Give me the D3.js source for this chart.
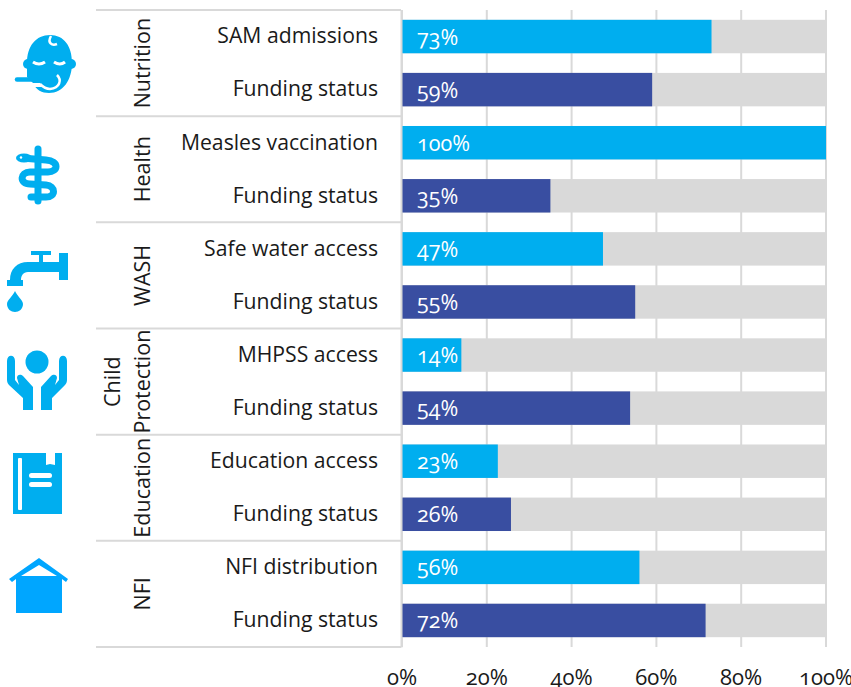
<!DOCTYPE html>
<html>
<head>
<meta charset="utf-8">
<script src="https://cdn.jsdelivr.net/npm/d3@7"></script>
<style>
html, body { margin: 0; padding: 0; background: #fff; }
text { font-family: "Open Sans", Lato, sans-serif; font-feature-settings: "onum" 1; fill: #1a1a1a; }
</style>
</head>
<body>
<div id="chart"></div>
<script>
const sectors = ["Nutrition", "Health", "WASH", "Child Protection", "Education", "NFI"]
const rowLabels = ["SAM admissions", "Funding status", "Measles vaccination", "Funding status",
    "Safe water access", "Funding status", "MHPSS access", "Funding status",
    "Education access", "Funding status", "NFI distribution", "Funding status"]
const rowValues = [73, 59, 100, 35, 47.4, 55, 14, 53.8, 22.6, 25.7, 56, 71.6]
const xTicks = [0, 20, 40, 60, 80, 100]

const width = 851, height = 687
const margin = { top: 10, right: 25, bottom: 40, left: 402 }
const colorAccess = "#00aeef", colorFunding = "#394ea1", colorRest = "#d9d9d9"
const lineColor = "#d9d9d9"

const svg = d3.select("#chart").append("svg")
    .attr("width", width)
    .attr("height", height)
    .style("display", "block")

const xScale = d3.scaleLinear().domain([0, 100]).range([margin.left, width - margin.right])
const yScale = d3.scaleBand()
    .domain(d3.range(rowLabels.length))
    .range([margin.top, height - margin.bottom])
    .paddingInner(0.37)
    .paddingOuter(0.185)
const sectorScale = d3.scaleBand()
    .domain(sectors)
    .range([margin.top, height - margin.bottom])

// vertical gridlines, they run behind the bars
const grid = svg.append("g")
    .attr("transform", "translate(-0.5," + (height - margin.bottom) + ")")
    .call(d3.axisBottom(xScale)
        .tickValues(xTicks)
        .tickSize(height - margin.bottom - margin.top)
        .tickSizeOuter(0)
        .tickPadding(0)
        .tickFormat(d => d + "%"))
grid.select(".domain").remove()
grid.selectAll(".tick line")
    .attr("y2", -(height - margin.bottom - margin.top))
    .attr("stroke", lineColor)
    .attr("stroke-width", 2)
grid.selectAll(".tick text")
    .attr("y", 38)
    .attr("dy", 0)
    .attr("font-size", 22)
    .attr("text-anchor", "middle")
    .style("font-family", null)

// grey remainder to 100%
svg.selectAll(".rest")
    .data(rowValues)
    .enter()
    .append("rect")
    .attr("class", "rest")
    .attr("x", xScale(0))
    .attr("y", (d, i) => yScale(i))
    .attr("width", xScale(100) - xScale(0))
    .attr("height", yScale.bandwidth())
    .attr("fill", colorRest)

svg.selectAll(".bar")
    .data(rowValues)
    .enter()
    .append("rect")
    .attr("class", "bar")
    .attr("x", xScale(0))
    .attr("y", (d, i) => yScale(i))
    .attr("width", d => xScale(d) - xScale(0))
    .attr("height", yScale.bandwidth())
    .attr("fill", (d, i) => i % 2 == 0 ? colorAccess : colorFunding)

svg.selectAll(".barLabel")
    .data(rowValues)
    .enter()
    .append("text")
    .attr("class", "barLabel")
    .attr("x", xScale(0) + 15)
    .attr("y", (d, i) => yScale(i) + yScale.bandwidth() / 2 + 8)
    .attr("font-size", 21.5)
    .style("fill", "#fff")
    .text(d => Math.round(d) + "%")

// row labels
const yAxis = svg.append("g")
    .attr("transform", "translate(" + (margin.left - 1) + ",0)")
    .call(d3.axisLeft(yScale).tickSize(0).tickPadding(23).tickFormat(i => rowLabels[i]))
yAxis.select(".domain").attr("stroke", lineColor).attr("stroke-width", 2)
yAxis.selectAll("text")
    .attr("font-size", 21.2)
    .attr("dy", "0.32em")
    .style("font-family", null)

// sector separators
const sepValues = sectors.map(d => sectorScale(d)).concat([height - margin.bottom])
svg.selectAll(".sep")
    .data(sepValues)
    .enter()
    .append("line")
    .attr("class", "sep")
    .attr("x1", 96)
    .attr("x2", margin.left - 1)
    .attr("y1", d => d)
    .attr("y2", d => d)
    .attr("stroke", lineColor)
    .attr("stroke-width", 2)

// sector labels, rotated
sectors.forEach(name => {
    const cy = sectorScale(name) + sectorScale.bandwidth() / 2
    const t = svg.append("text")
        .attr("transform", "translate(150," + cy + ") rotate(-90)")
        .attr("text-anchor", "middle")
        .attr("font-size", 21.5)
    if (name == "Child Protection") {
        t.append("tspan").attr("x", 0).attr("y", -30).text("Child")
        t.append("tspan").attr("x", 0).attr("y", 0).text("Protection")
    } else {
        t.text(name)
    }
})

// icons
const icons = svg.append("g").attr("fill", colorAccess)

// baby
const baby = icons.append("g")
baby.append("path").attr("d", "M27,63 C27,46 36,35 50,35 C64,35 72,46 72,63 C72,80 63,93 49,93 C42,93 36,90 33,83 L27,77 Z")
baby.append("circle").attr("cx", 28).attr("cy", 64).attr("r", 5)
baby.append("circle").attr("cx", 71).attr("cy", 64).attr("r", 5)
baby.append("path").attr("d", "M57,75 C62,80 60,88 50,89 C46,89 43,87 40,84").attr("fill", "none").attr("stroke", "#fff").attr("stroke-width", 2.5)
baby.append("path").attr("d", "M28,83 L40,83 L42,87 L32,87 Z").attr("fill", "#fff")
baby.append("path").attr("d", "M17,79.5 L44,79.5").attr("stroke", colorAccess).attr("stroke-width", 4.5).attr("stroke-linecap", "round")
baby.append("path").attr("d", "M43,77 L57,77 C57,83 53,86 49,86 C46,86 44,84 43,82 Z")
baby.append("path").attr("d", "M33,62 Q39,66 45,62 M54,62 Q60,66 65,62").attr("fill", "none").attr("stroke", "#fff").attr("stroke-width", 3)
baby.append("path").attr("d", "M51,36 C47,43 52,46 57,44").attr("fill", "none").attr("stroke", "#fff").attr("stroke-width", 2.5)

// staff and snake
const snake = icons.append("g")
snake.append("path").attr("d", "M38,149 L38,201").attr("stroke", colorAccess).attr("stroke-width", 7).attr("stroke-linecap", "round")
snake.append("path")
    .attr("d", "M22,158 L46,160 C60,161 58,172 48,172 L30,172 C20,172 19,184 30,184 L46,185 C56,186 56,197 46,197 L31,197")
    .attr("fill", "none").attr("stroke", colorAccess).attr("stroke-width", 7).attr("stroke-linecap", "round")
snake.append("ellipse").attr("cx", 24).attr("cy", 158).attr("rx", 8).attr("ry", 4.5)
snake.append("circle").attr("cx", 21).attr("cy", 157.5).attr("r", 1.2).attr("fill", "#fff")

// tap
const tap = icons.append("g")
tap.append("path").attr("d", "M31,251 L51,251 L51,255 L43,255 L43,262 L59,262 L59,253 L68,253 L68,280 L59,280 L59,272 L28,272 C23,272 21,276 21,280 L23,280 L23,286 L7,286 L7,280 L10,280 C10,269 17,262 28,262 L39,262 L39,255 L31,255 Z")
tap.append("path").attr("d", "M15,291 C17,296 23,300 23,304 C23,309 19,312 15,312 C11,312 7,309 7,304 C7,300 13,296 15,291 Z")

// hands
const hands = icons.append("g")
hands.append("circle").attr("cx", 37).attr("cy", 362).attr("r", 11.5)
hands.append("path").attr("d", "M7,361 C7,354 15,354 15,361 L15,380 L19,385 L17,378 C17,374 21,374 23,376 L33,387 L33,410 L23,410 L23,398 L9,385 C8,384 7,382 7,380 Z")
hands.append("path").attr("d", "M67,361 C67,354 59,354 59,361 L59,380 L55,385 L57,378 C57,374 53,374 51,376 L41,387 L41,410 L52,410 L52,398 L65,385 C66,384 67,382 67,380 Z")

// book
const book = icons.append("g")
book.append("path").attr("d", "M13,453 L46,453 L46,465 L50,464 L55,465 L55,453 L62,453 L62,514 L13,514 Z")
book.append("rect").attr("x", 18).attr("y", 458).attr("width", 4).attr("height", 52).attr("rx", 1).attr("fill", "#fff")
book.append("rect").attr("x", 29).attr("y", 473).attr("width", 23).attr("height", 5).attr("rx", 2.5).attr("fill", "#fff")
book.append("rect").attr("x", 29).attr("y", 482).attr("width", 23).attr("height", 5).attr("rx", 2.5).attr("fill", "#fff")

// house
const house = icons.append("g").attr("fill", "#00a6ff")
house.append("path").attr("d", "M39,558 L68,579 L66,582 L62,579 L62,613 L16,613 L16,579 L12,582 L9,579 Z M39,565 L21,576 L57,576 Z").attr("fill-rule", "evenodd")
</script>
</body>
</html>
